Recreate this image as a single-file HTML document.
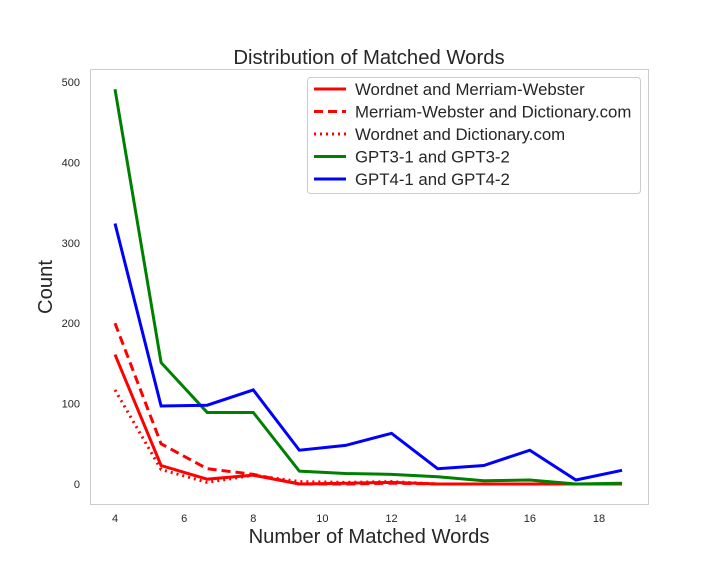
<!DOCTYPE html>
<html><head><meta charset="utf-8"><style>body{margin:0;background:#fff}svg{font-family:"Liberation Sans",sans-serif}</style></head>
<body>
<svg id="c" width="720" height="576">
<rect x="90.5" y="69.5" width="558" height="435" fill="#fff" stroke="#ccc"/>
<text x="369" y="64" text-anchor="middle" font-size="20.3" fill="#262626">Distribution of Matched Words</text>
<text x="369" y="543" text-anchor="middle" font-size="20.2" fill="#262626">Number of Matched Words</text>
<text transform="translate(52,287) rotate(-90)" text-anchor="middle" font-size="20.2" fill="#262626">Count</text>
<g id="ticks"></g><g id="lines"></g>
<g>
<rect x="307.5" y="77.5" width="333" height="116" rx="3" fill="#fff" stroke="#ccc"/>
<g id="leg"></g></g>
</svg>
<script>
const xs=[4,5.333,6.667,8,9.333,10.667,12,13.333,14.667,16,17.333,18.667];
const seriesNames=["Wordnet and Merriam-Webster","Merriam-Webster and Dictionary.com","Wordnet and Dictionary.com","GPT3-1 and GPT3-2","GPT4-1 and GPT4-2"];
const wmw=[161,23,6,11,0,1,2,0,0,0,0,0];
const mwd=[200,50,19,12,0,0,1,0,0,0,0,0];
const wd=[117,18,2,11,3,2,3,0,0,0,0,0];
const gpt3=[491,151,89,89,16,13,12,9,4,5,0,1];
const gpt4=[324,97,98,117,42,48,63,19,23,42,5,17];
const xTicks=[4,6,8,10,12,14,16,18];
const yTicks=[0,100,200,300,400,500];
const X=v=>115+(v-4)*34.57, Y=v=>484-v*0.804;
const ns="http://www.w3.org/2000/svg";
function mk(t,a,p){const e=document.createElementNS(ns,t);for(const k in a)e.setAttribute(k,a[k]);p.appendChild(e);return e;}
const tk=document.getElementById('ticks');
xTicks.forEach(v=>{const t=mk('text',{x:X(v),y:522,'text-anchor':'middle','font-size':11,fill:'#262626'},tk);t.textContent=v;

});
yTicks.forEach(v=>{const t=mk('text',{x:80,y:Y(v)+4,'text-anchor':'end','font-size':11,fill:'#262626'},tk);t.textContent=v;

});
const data=[wmw,mwd,wd,gpt3,gpt4];
const cols=['red','red','red','green','blue'];
const dash=['','9,5','2,4','',''];
const lg=document.getElementById('lines'), leg=document.getElementById('leg');
data.forEach((d,i)=>{
const p=mk('polyline',{points:d.map((v,j)=>X(xs[j])+','+Y(v)).join(' '),fill:'none',stroke:cols[i],'stroke-width':3,'stroke-dasharray':dash[i]},lg);


const y=89+i*22.5;
const l=mk('line',{x1:314,x2:346,y1:y,y2:y,stroke:cols[i],'stroke-width':3,'stroke-dasharray':dash[i]},leg);


const t=mk('text',{x:355,y:y+6,'font-size':16.8,fill:'#262626'},leg);t.textContent=seriesNames[i];


});
</script>
</body></html>
